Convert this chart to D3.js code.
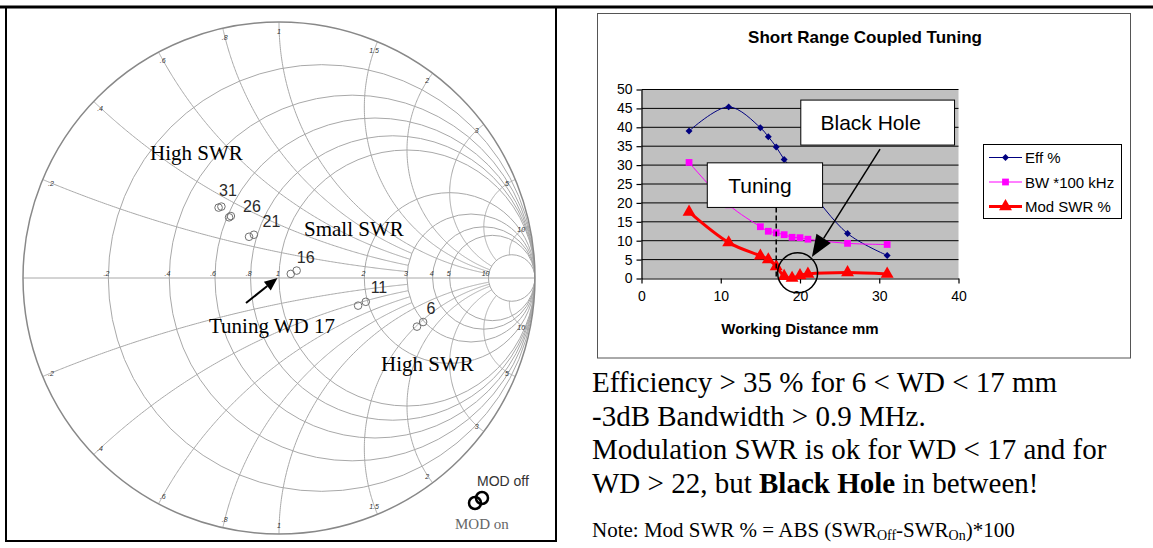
<!DOCTYPE html>
<html>
<head>
<meta charset="utf-8">
<script src="https://cdn.jsdelivr.net/npm/d3@7"></script>
<style>
  body { margin: 0; background: #fff; }
  svg { display: block; }
  .sans { font-family: "Liberation Sans", Arial, sans-serif; }
  .serif { font-family: "Liberation Serif", "Times New Roman", serif; }
</style>
</head>
<body>
<svg id="fig" width="1153" height="548"></svg>
<script>
// Smith chart grid values
var resistanceValues = [0.2, 0.4, 0.6, 0.8, 1, 2, 3, 4, 5, 10];
var resistanceLabels = ['.2', '.4', '.6', '.8', '1', '2', '3', '4', '5', '10'];
var reactanceValues = [0.2, 0.4, 0.6, 0.8, 1, 1.5, 2, 3, 5, 10];
var reactanceLabels = ['.2', '.4', '.6', '.8', '1', '1.5', '2', '3', '5', '10'];

// measured reflection coefficients per working distance (re, im)
var wdPoints = [31, 26, 21, 16, 11, 6];
var gammaOffRe = [-0.225, -0.188, -0.098, 0.069, 0.339, 0.563];
var gammaOffIm = [0.279, 0.242, 0.169, 0.029, -0.093, -0.172];
var gammaOnRe = [-0.236, -0.195, -0.117, 0.046, 0.309, 0.539];
var gammaOnIm = [0.275, 0.237, 0.161, 0.016, -0.108, -0.190];

// line chart data
var workingDistance = [6, 11, 15, 16, 17, 18, 19, 20, 21, 26, 31];
var effPct = [39.0, 45.4, 39.9, 37.5, 34.8, 31.5, 29.0, 26.5, 24.0, 11.9, 6.1];
var bwKhz = [30.7, 19.5, 13.7, 12.5, 12.1, 11.6, 10.9, 10.8, 10.4, 9.3, 9.0];
var modSwrPct = [17.6, 9.5, 6.0, 5.0, 3.2, 0.6, 0.1, 0.8, 1.2, 1.6, 1.2];
var seriesNames = ['Eff %', 'BW *100 kHz', 'Mod SWR %'];
var xTicks = [0, 10, 20, 30, 40];
var yTicks = [0, 5, 10, 15, 20, 25, 30, 35, 40, 45, 50];

var svg = d3.select('#fig');

// page frame (table cells)
var frame = svg.append('g').attr('stroke', '#000').attr('fill', 'none');
frame.append('line').attr('x1', 0).attr('x2', 1153).attr('y1', 7).attr('y2', 7).attr('stroke-width', 3);
frame.append('rect').attr('x', 6).attr('y', 7).attr('width', 550).attr('height', 534).attr('stroke-width', 2);

/*
 * Smith chart
 */
var smithCx = 279, smithCy = 278, smithR = 256;
var gx = d3.scaleLinear().domain([-1, 1]).range([smithCx - smithR, smithCx + smithR]);
var gy = d3.scaleLinear().domain([-1, 1]).range([smithCy + smithR, smithCy - smithR]);

function gamma(r, x) {
  var d = (r + 1) * (r + 1) + x * x;
  return [(r * r + x * x - 1) / d, 2 * x / d];
}

var smithLine = d3.line()
  .x(function (d) { return gx(d[0]); })
  .y(function (d) { return gy(d[1]); });

var smith = svg.append('g');
smith.append('clipPath').attr('id', 'unit')
  .append('circle').attr('cx', gx(0)).attr('cy', gy(0)).attr('r', gx(1) - gx(0));

var grid = smith.append('g')
  .attr('clip-path', 'url(#unit)')
  .attr('fill', 'none')
  .attr('stroke', '#a8a8a8')
  .attr('stroke-width', 1);

resistanceValues.forEach(function (r) {
  grid.append('circle')
    .attr('cx', gx(r / (1 + r)))
    .attr('cy', gy(0))
    .attr('r', gx(1 / (1 + r)) - gx(0));
});

grid.append('line')
  .attr('x1', gx(-1)).attr('x2', gx(1))
  .attr('y1', gy(0)).attr('y2', gy(0));

reactanceValues.forEach(function (x) {
  var rmax = x < 1 ? 3 : 10;
  [1, -1].forEach(function (s) {
    var pts = d3.range(0, 241).map(function (i) {
      var t = i / 240;
      return gamma(rmax * t * t, s * x);
    });
    grid.append('path').attr('d', smithLine(pts));
  });
});

smith.append('circle')
  .attr('cx', gx(0)).attr('cy', gy(0)).attr('r', gx(1) - gx(0))
  .attr('fill', 'none').attr('stroke', '#888').attr('stroke-width', 1.5);

// small grid labels
var tiny = smith.append('g')
  .attr('class', 'sans')
  .attr('font-size', 7)
  .attr('font-style', 'italic')
  .attr('fill', '#333');

resistanceValues.forEach(function (r, i) {
  var p = gamma(r, 0);
  tiny.append('text')
    .attr('x', gx(p[0]) + 1)
    .attr('y', gy(0) - 2)
    .attr('text-anchor', 'end')
    .text(resistanceLabels[i]);
});

reactanceValues.forEach(function (x, i) {
  [1, -1].forEach(function (s) {
    var p = gamma(0, s * x);
    var k = 0.965;
    tiny.append('text')
      .attr('x', gx(p[0] * k))
      .attr('y', gy(p[1] * k) + 3)
      .attr('text-anchor', 'middle')
      .text(reactanceLabels[i]);
  });
});

// measured points
var labelOffsets = [[8, -17], [22, -10], [20, -14], [12, -15], [17, -16], [11, -16]];
var pts = smith.append('g').attr('fill', 'none').attr('stroke', '#707070').attr('stroke-width', 1);
wdPoints.forEach(function (wd, i) {
  pts.append('circle').attr('cx', gx(gammaOnRe[i])).attr('cy', gy(gammaOnIm[i])).attr('r', 3.8);
  pts.append('circle').attr('cx', gx(gammaOffRe[i])).attr('cy', gy(gammaOffIm[i])).attr('r', 3.8);
  var mx = (gx(gammaOnRe[i]) + gx(gammaOffRe[i])) / 2;
  var my = (gy(gammaOnIm[i]) + gy(gammaOffIm[i])) / 2;
  smith.append('text')
    .attr('class', 'sans')
    .attr('x', mx + labelOffsets[i][0])
    .attr('y', my + labelOffsets[i][1] + 5.5)
    .attr('text-anchor', 'middle')
    .attr('font-size', 16)
    .attr('fill', '#2a2a2a')
    .text(wd);
});

// region notes
var notes = smith.append('g').attr('class', 'serif').attr('font-size', 21).attr('fill', '#000');
notes.append('text').attr('x', 150).attr('y', 160).text('High SWR');
notes.append('text').attr('x', 304).attr('y', 236).text('Small SWR');
notes.append('text').attr('x', 381).attr('y', 371).text('High SWR');
notes.append('text').attr('x', 209).attr('y', 333).text('Tuning WD 17');

// arrow helper
function arrow(g, x1, y1, x2, y2, len, half, width) {
  var a = Math.atan2(y2 - y1, x2 - x1);
  var bx = x2 - len * Math.cos(a), by = y2 - len * Math.sin(a);
  g.append('line')
    .attr('x1', x1).attr('y1', y1).attr('x2', bx).attr('y2', by)
    .attr('stroke', '#000').attr('stroke-width', width);
  g.append('path')
    .attr('d', d3.line()([
      [x2, y2],
      [bx + half * Math.sin(a), by - half * Math.cos(a)],
      [bx - half * Math.sin(a), by + half * Math.cos(a)]
    ]) + 'Z')
    .attr('fill', '#000');
}
arrow(smith, 246, 303, gx(0) - 1.5, gy(0), 13, 5.5, 2);

// MOD legend
smith.append('text').attr('class', 'sans').attr('x', 477).attr('y', 486)
  .attr('font-size', 14).attr('fill', '#333').text('MOD off');
smith.append('circle').attr('cx', 475).attr('cy', 503).attr('r', 6)
  .attr('fill', 'none').attr('stroke', '#000').attr('stroke-width', 2.5);
smith.append('circle').attr('cx', 482).attr('cy', 498).attr('r', 6)
  .attr('fill', 'none').attr('stroke', '#000').attr('stroke-width', 2.5);
smith.append('text').attr('class', 'serif').attr('x', 455).attr('y', 529)
  .attr('font-size', 15).attr('fill', '#666').text('MOD on');

/*
 * Line chart
 */
var chartG = svg.append('g');
chartG.append('rect')
  .attr('x', 597.5).attr('y', 13.5).attr('width', 533).attr('height', 344.5)
  .attr('fill', '#fff').attr('stroke', '#555').attr('stroke-width', 1);

chartG.append('text')
  .attr('class', 'sans')
  .attr('x', 865).attr('y', 43)
  .attr('text-anchor', 'middle')
  .attr('font-size', 17).attr('font-weight', 'bold')
  .text('Short Range Coupled Tuning');

var xs = d3.scaleLinear().domain([0, 40]).range([641.5, 958.5]);
var ys = d3.scaleLinear().domain([0, 50]).range([278.5, 89.5]);

chartG.append('rect')
  .attr('x', xs(0)).attr('y', ys(50))
  .attr('width', xs(40) - xs(0)).attr('height', ys(0) - ys(50))
  .attr('fill', '#c0c0c0');

chartG.append('g').selectAll('line')
  .data(yTicks.slice(1))
  .join('line')
  .attr('x1', xs(0)).attr('x2', xs(40))
  .attr('y1', function (d) { return ys(d); })
  .attr('y2', function (d) { return ys(d); })
  .attr('stroke', '#000').attr('stroke-width', 1);

var yAxis = chartG.append('g')
  .attr('transform', 'translate(' + xs(0) + ',0)')
  .call(d3.axisLeft(ys).tickValues(yTicks).tickSize(5).tickPadding(4).tickSizeOuter(0));
var xAxis = chartG.append('g')
  .attr('transform', 'translate(0,' + ys(0) + ')')
  .call(d3.axisBottom(xs).tickValues(xTicks).tickSize(5).tickPadding(8).tickSizeOuter(0));
[yAxis, xAxis].forEach(function (ax) {
  ax.selectAll('text').attr('font-family', '"Liberation Sans", Arial, sans-serif')
    .attr('font-size', 14).attr('fill', '#000');
  ax.selectAll('line, path').attr('stroke', '#000').attr('stroke-width', 1.2);
});

chartG.append('text')
  .attr('class', 'sans')
  .attr('x', 800).attr('y', 334)
  .attr('text-anchor', 'middle')
  .attr('font-size', 15).attr('font-weight', 'bold')
  .text('Working Distance mm');

var series = [
  { name: seriesNames[0], values: effPct, color: '#000080', width: 1, symbol: d3.symbolSquare, size: 24, rotate: 45 },
  { name: seriesNames[1], values: bwKhz, color: '#ff00ff', width: 1, symbol: d3.symbolSquare, size: 46, rotate: 0 },
  { name: seriesNames[2], values: modSwrPct, color: '#ff0000', width: 3, symbol: d3.symbolTriangle, size: 72, rotate: 0 }
];

var seriesLine = d3.line()
  .x(function (d) { return xs(d[0]); })
  .y(function (d) { return ys(d[1]); })
  .curve(d3.curveCatmullRom.alpha(0.5));

series.forEach(function (s) {
  var pairs = workingDistance.map(function (wd, i) { return [wd, s.values[i]]; });
  chartG.append('path')
    .attr('d', seriesLine(pairs))
    .attr('fill', 'none')
    .attr('stroke', s.color)
    .attr('stroke-width', s.width);
  chartG.append('g').selectAll('path')
    .data(pairs)
    .join('path')
    .attr('d', d3.symbol(s.symbol, s.size))
    .attr('transform', function (d) {
      return 'translate(' + xs(d[0]) + ',' + ys(d[1]) + ') rotate(' + s.rotate + ')';
    })
    .attr('fill', s.color);
});

// annotations
var ann = chartG.append('g');
ann.append('rect')
  .attr('x', xs(8.3)).attr('y', ys(30.6))
  .attr('width', xs(22.85) - xs(8.3)).attr('height', ys(18.8) - ys(30.6))
  .attr('fill', '#fff').attr('stroke', '#000').attr('stroke-width', 1);
ann.append('text').attr('class', 'sans')
  .attr('x', (xs(8.3) + xs(22.85)) / 2 - 5).attr('y', ys(24.7) + 7.5)
  .attr('text-anchor', 'middle').attr('font-size', 21).text('Tuning');

ann.append('rect')
  .attr('x', xs(20.1)).attr('y', ys(47.2))
  .attr('width', xs(39.5) - xs(20.1)).attr('height', ys(35.3) - ys(47.2))
  .attr('fill', '#fff').attr('stroke', '#000').attr('stroke-width', 1);
ann.append('text').attr('class', 'sans')
  .attr('x', (xs(20.1) + xs(39.5)) / 2 - 7).attr('y', ys(41.3) + 7.5)
  .attr('text-anchor', 'middle').attr('font-size', 21).text('Black Hole');

ann.append('line')
  .attr('x1', xs(17)).attr('x2', xs(17))
  .attr('y1', ys(18.8)).attr('y2', ys(0))
  .attr('stroke', '#000').attr('stroke-width', 1.5).attr('stroke-dasharray', '5,3');

arrow(ann, xs(30.1), ys(35.3) + 4, xs(21.5), ys(5.7), 22, 8.5, 1.5);

ann.append('circle')
  .attr('cx', xs(19.7)).attr('cy', ys(1.5)).attr('r', 20)
  .attr('fill', 'none').attr('stroke', '#000').attr('stroke-width', 1.5);

// legend
var lg = chartG.append('g');
lg.append('rect').attr('x', 983.5).attr('y', 144.5).attr('width', 138).attr('height', 74)
  .attr('fill', '#fff').attr('stroke', '#000').attr('stroke-width', 1);
series.forEach(function (s, i) {
  var y = 157.5 + i * 24.5;
  lg.append('line').attr('x1', 989).attr('x2', 1022).attr('y1', y).attr('y2', y)
    .attr('stroke', s.color).attr('stroke-width', s.width);
  lg.append('path').attr('d', d3.symbol(s.symbol, s.size))
    .attr('transform', 'translate(1005.5,' + y + ') rotate(' + s.rotate + ')')
    .attr('fill', s.color);
  lg.append('text').attr('class', 'sans').attr('x', 1025).attr('y', y + 5.5)
    .attr('font-size', 15).text(s.name);
});

/*
 * Text below the chart
 */
var para = svg.append('g').attr('class', 'serif').attr('font-size', 29).attr('fill', '#000');
para.append('text').attr('x', 592).attr('y', 392).text('Efficiency > 35 % for 6 < WD < 17 mm');
para.append('text').attr('x', 592).attr('y', 425.5).text('-3dB Bandwidth > 0.9 MHz.');
para.append('text').attr('x', 592).attr('y', 459).text('Modulation SWR is ok for WD < 17 and for');
var l4 = para.append('text').attr('x', 592).attr('y', 492.5);
l4.append('tspan').text('WD > 22, but ');
l4.append('tspan').attr('font-weight', 'bold').text('Black Hole');
l4.append('tspan').text(' in between!');

var note = svg.append('text').attr('class', 'serif').attr('x', 592).attr('y', 537).attr('font-size', 21);
note.append('tspan').text('Note: Mod SWR % = ABS (SWR');
note.append('tspan').attr('font-size', 14).attr('dy', 3).text('Off');
note.append('tspan').attr('dy', -3).text('-SWR');
note.append('tspan').attr('font-size', 14).attr('dy', 3).text('On');
note.append('tspan').attr('dy', -3).text(')*100');
</script>
</body>
</html>
